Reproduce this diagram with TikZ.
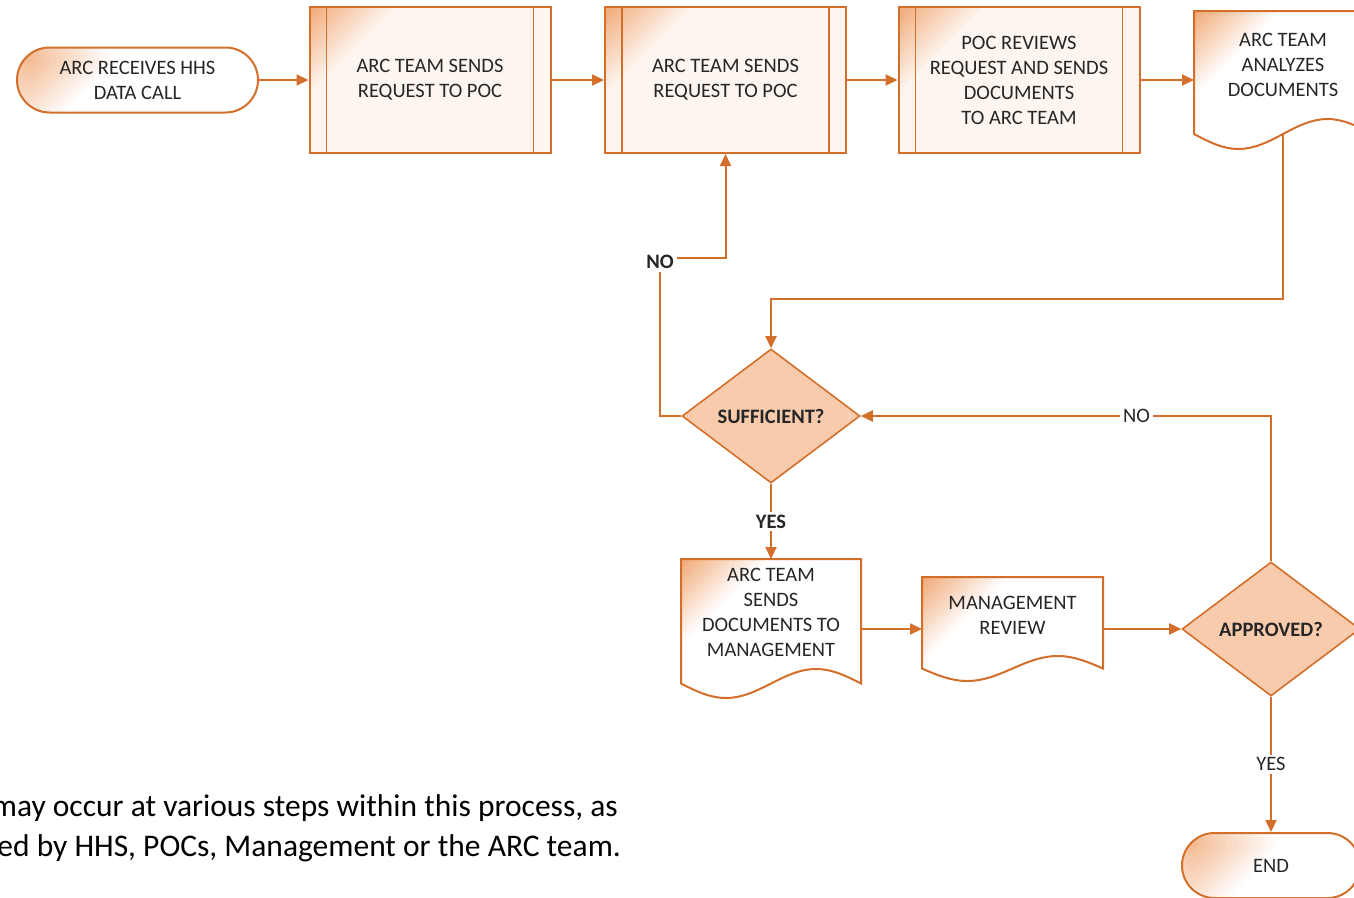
\documentclass[tikz,border=0pt]{standalone}
\usepackage{fontspec}
\setmainfont{Carlito}
\usetikzlibrary{shapes.geometric,arrows.meta,backgrounds,calc}

\definecolor{lineor}{RGB}{211,110,43}
\definecolor{peach}{RGB}{248,203,173}
\definecolor{procfill}{RGB}{253,245,239}
\definecolor{glow}{RGB}{241,170,120}
\definecolor{txtc}{RGB}{38,38,38}

% corner glow: nested triangles at a corner, fading from the glow colour to #2
% #1 corner point, #2 fill colour of the shape, #3 length of the legs
\newcommand\cornerglow[3]{%
  \foreach \k in {20,19,...,1}{%
    \pgfmathtruncatemacro\pc{100*(21-\k)/20}%
    \fill[glow!\pc!#2] (#1) -- ++({\k*#3/20},0) -- ++({-\k*#3/20},{\k*#3/20}) -- cycle;}}

% outline of a document symbol: flat top, wavy bottom through the node's south side
\newcommand\docpath[2]{let \p1=(#1.north west), \p2=(#1.south east), \n1={(\x2-\x1)/4} in
  (\p1) -- (\x2,\y1) -- (\x2,\y2) sin (\x2-\n1,\y2+#2) cos (\x2-2*\n1,\y2)
  sin (\x1+\n1,\y2-#2) cos (\x1,\y2) -- cycle}

% fill, corner glow and border of a document symbol
\newcommand\drawdoc[3]{%
  \begin{scope}[on background layer]
    \fill[white] \docpath{#1}{#2};
    \begin{scope}
      \clip \docpath{#1}{#2};
      \cornerglow{#1.north west}{white}{#3}
    \end{scope}
    \draw[shapeline] \docpath{#1}{#2};
  \end{scope}}

\begin{document}
\begin{tikzpicture}[x=1pt,y=-1pt,
  shapeline/.style={draw=lineor, line width=2pt},
  txt/.style={font=\fontsize{20.5}{25}\selectfont, text=txtc, align=center},
  terminal/.style={txt, shapeline, fill=white, rounded corners=32.5pt,
    minimum width=#1, minimum height=65pt, inner sep=0pt,
    path picture={\cornerglow{path picture bounding box.north west}{white}{110}}},
  process/.style={txt, shapeline, fill=procfill, minimum width=241pt,
    minimum height=146pt, inner sep=0pt,
    path picture={
      \cornerglow{path picture bounding box.north west}{procfill}{85}
      \draw[draw=lineor, line width=1.6pt]
        ([xshift=17pt]path picture bounding box.north west) --
        ([xshift=17pt]path picture bounding box.south west);
      \draw[draw=lineor, line width=1.6pt]
        ([xshift=-17pt]path picture bounding box.north east) --
        ([xshift=-17pt]path picture bounding box.south east);}},
  decision/.style={shape=diamond, draw=lineor, line width=1.6pt, fill=peach,
    minimum width=178pt, minimum height=134pt, inner sep=0pt, aspect=1.33,
    font=\bfseries\fontsize{20.5}{25}\selectfont, text=txtc},
  docnode/.style={minimum width=#1, inner sep=0pt, outer sep=1pt},
  flow/.style={draw=lineor, line width=2pt, -{Triangle[length=12pt,width=11pt]}},
  lab/.style={txt, fill=white, inner sep=3pt},
  blab/.style={lab, font=\bfseries\fontsize{20.5}{25}\selectfont},
  note/.style={font=\fontsize{31.5}{40}\selectfont, text=black, inner sep=0pt}
]
\path[use as bounding box] (0,0) rectangle (1354,897);

% top row
\node[terminal=241pt] (start) at (137.5,80) {ARC RECEIVES HHS\\DATA CALL};
\node[process] (box1) at (430,80) {ARC TEAM SENDS\\REQUEST TO POC};
\node[process] (box2) at (725.5,80) {ARC TEAM SENDS\\REQUEST TO POC};
\node[process] (box3) at (1019,80) {POC REVIEWS\\REQUEST AND SENDS\\DOCUMENTS\\TO ARC TEAM};
\node[docnode=176pt, minimum height=121pt] (analyze) at (1283,72.5) {};
\node[txt] (analyzetext) at (1283,64.5) {ARC TEAM\\ANALYZES\\DOCUMENTS};

% decisions and lower row
\node[decision] (suff) at (771,416) {SUFFICIENT?};
\node[docnode=178pt, minimum height=122.5pt] (sendmgmt) at (771,621.25) {};
\node[txt] (sendmgmttext) at (771,612.5) {ARC TEAM\\SENDS\\DOCUMENTS TO\\MANAGEMENT};
\node[docnode=179pt, minimum height=89.5pt] (review) at (1012.5,622.75) {};
\node[txt] (reviewtext) at (1012.5,615) {MANAGEMENT\\REVIEW};
\node[decision] (approved) at (1271,629) {APPROVED?};
\node[terminal=178pt] (end) at (1271,865.5) {END};

\drawdoc{analyze}{15}{85}
\drawdoc{sendmgmt}{14.5}{85}
\drawdoc{review}{12.5}{85}

% connectors
\coordinate (bend1) at (771,299);
\coordinate (nocorner) at (660,258);
\draw[flow] (start.east) -- (box1.west);
\draw[flow] (box1.east) -- (box2.west);
\draw[flow] (box2.east) -- (box3.west);
\draw[flow] (box3.east) -- (box3.east -| analyze.west);
\draw[flow] (analyze.south) |- (bend1) -- (suff.north);
\draw[flow] (suff.west) -| (nocorner) -| (box2.south);
\node[blab] (no1) at (660,262) {NO};
\draw[flow] (suff.south) -- node[blab] (yes1) {YES} (sendmgmt.north);
\draw[flow] (sendmgmt.east |- approved.west) -- (review.west |- approved.west);
\draw[flow] (review.east |- approved.west) -- (approved.west);
\draw[flow] (approved.north) |- node[lab, pos=0.664] (no2) {NO} (suff.east);
\draw[flow] (approved.south) -- node[lab] (yes2) {YES} (end.north);

% note below the chart
\node[note, anchor=base east] (note1) at (618,816) {may occur at various steps within this process, as};
\node[note, anchor=base east] (note2) at (621,856) {ed by HHS, POCs, Management or the ARC team.};
\end{tikzpicture}
\end{document}
